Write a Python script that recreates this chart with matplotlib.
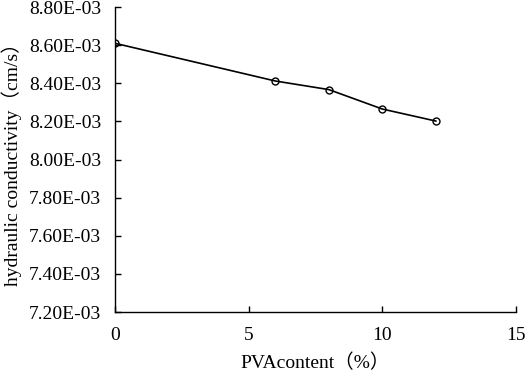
import matplotlib.pyplot as plt

# PVA content (%) and hydraulic conductivity (cm/s)
pva = [0, 6, 8, 10, 12]
conductivity = [8.61e-3, 8.412e-3, 8.367e-3, 8.265e-3, 8.202e-3]

x_ticks = [0, 5, 10, 15]
y_ticks = [7.2e-3, 7.4e-3, 7.6e-3, 7.8e-3, 8.0e-3, 8.2e-3, 8.4e-3, 8.6e-3, 8.8e-3]

fonts = ['Liberation Serif', 'Noto Sans CJK SC']
plt.rcParams['font.family'] = fonts

fig = plt.figure(figsize=(5.26, 3.76), dpi=100)
ax = fig.add_axes([0.2186, 0.1702, 0.7624, 0.811])

ax.plot(pva, conductivity, color='black', linewidth=1.2, marker='o',
        markersize=5, markerfacecolor='none', markeredgecolor='black', markeredgewidth=1)

ax.set_xlim(0, 15)
ax.set_ylim(7.2e-3, 8.8e-3)
ax.set_xticks(x_ticks)
ax.set_xticklabels([str(t) for t in x_ticks])
ax.set_yticks(y_ticks)
ax.set_yticklabels(['%.2fE-03' % (t * 1000) for t in y_ticks])
ax.tick_params(direction='in', length=4, width=1, labelsize=14, pad=10)
ax.tick_params(axis='x', pad=11)

for s in ['top', 'right']:
    ax.spines[s].set_visible(False)
for s in ['left', 'bottom']:
    ax.spines[s].set_linewidth(1)

ax.set_xlabel('PVAcontent（%）', fontsize=14, labelpad=7)
ax.set_ylabel('hydraulic conductivity（cm/s）', fontsize=14, labelpad=5)

fig.savefig('out.png', dpi=100)
